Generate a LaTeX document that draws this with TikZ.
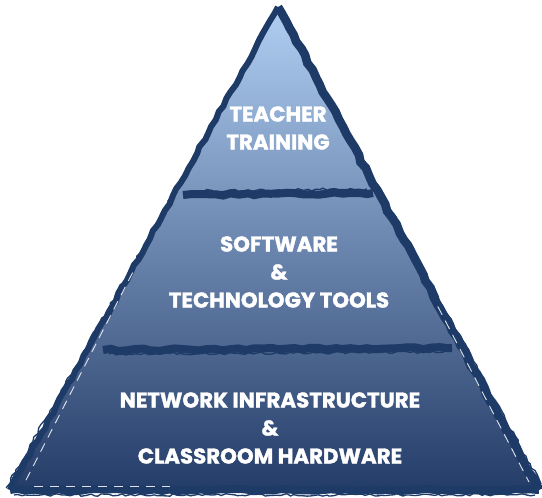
\documentclass[tikz,border=0pt]{standalone}
\usepackage{fontspec}
\setmainfont{Poppins}[BoldFeatures={FakeBold=1.6}]
\usetikzlibrary{decorations.pathmorphing,calc}

\definecolor{pyrtop}{RGB}{176,206,242}
\definecolor{pyrmid}{RGB}{112,144,192}
\definecolor{pyrbot}{RGB}{36,60,104}
\definecolor{brush}{RGB}{30,58,102}

\tikzset{
  tierlabel/.style={text=white, font=\bfseries\fontsize{16}{21}\selectfont, align=center},
  brushline/.style={draw=brush, line width=4.5pt, decorate,
    decoration={random steps, segment length=6pt, amplitude=0.9pt}},
  brushhair/.style={draw=brush, line width=1pt, decorate,
    decoration={random steps, segment length=3pt, amplitude=1pt}},
  streak/.style={draw=white!85!brush, line width=0.7pt, dash pattern=on 7pt off 5pt}
}

\begin{document}
\begin{tikzpicture}[x=0.75pt, y=-0.75pt]
\useasboundingbox (0,0) rectangle (542,497);
\pgfmathsetseed{11}

% corners
\coordinate (apex) at (278,7);
\coordinate (bl) at (10,490);
\coordinate (br) at (539,490);

% body
\shade[top color=pyrtop, middle color=pyrmid, bottom color=pyrbot]
  (apex) -- (br) -- (bl) -- cycle;

% rough outline
\draw[brushline] (apex) -- (bl);
\draw[brushline, line width=6.5pt] (apex) -- (br);
\draw[brushline, line width=6pt] (bl) -- (br);
\draw[brushhair] ($(apex)+(-4,10)$) -- ($(bl)+(-4,-2)$);
\draw[brushhair] ($(apex)+(6,8)$) -- ($(br)+(2,-6)$);
\draw[brushhair] ($(bl)+(4,5)$) -- ($(br)+(-4,5)$);

% white streaks in the strokes
\draw[streak] ($(apex)!0.55!(bl)+(2,0)$) -- ($(bl)+(14,-6)$);
\draw[streak] ($(bl)+(24,-4)$) -- ($(bl)+(160,-4)$);
\draw[streak] ($(apex)!0.62!(br)+(-2,0)$) -- ($(br)+(-10,-8)$);

% tier dividers
\coordinate (d1l) at (183,195);
\coordinate (d1r) at (373,193);
\coordinate (d2l) at (103,350);
\coordinate (d2r) at (452,348);
\draw[brushline, line width=6pt] (d1l) -- (d1r);
\draw[brushhair] ($(d1l)+(8,-4)$) -- ($(d1r)+(-6,-4)$);
\draw[brushline, line width=6pt] (d2l) -- (d2r);
\draw[brushhair] ($(d2l)+(6,4)$) -- ($(d2r)+(-8,4)$);

% labels
\node[tierlabel] (training) at (278,128) {TEACHER\\TRAINING};
\node[tierlabel] (software) at (279,272) {SOFTWARE\\\&\\TECHNOLOGY TOOLS};
\node[tierlabel] (network) at (270,428) {NETWORK INFRASTRUCTURE\\\&\\CLASSROOM HARDWARE};

\end{tikzpicture}
\end{document}
